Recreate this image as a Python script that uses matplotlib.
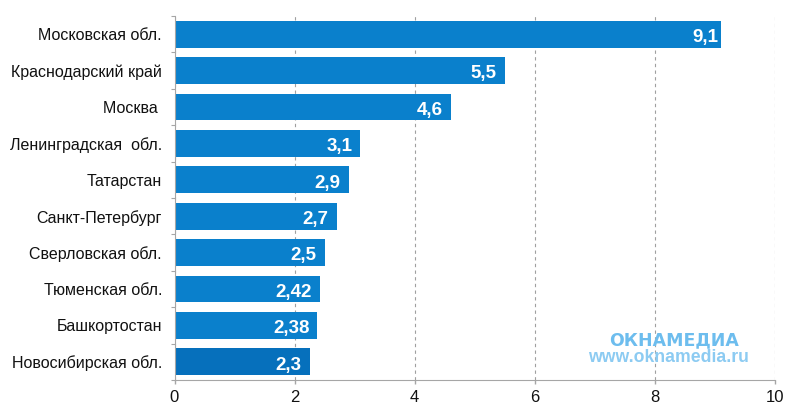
import matplotlib.pyplot as plt


# данные
regions = ['Московская обл.', 'Краснодарский край', 'Москва ', 'Ленинградская  обл.', 'Татарстан',
           'Санкт-Петербург', 'Сверловская обл.', 'Тюменская обл.', 'Башкортостан', 'Новосибирская обл.']
values = [9.1, 5.5, 4.6, 3.09, 2.9, 2.7, 2.5, 2.42, 2.38, 2.25]
value_labels = ['9,1', '5,5', '4,6', '3,1', '2,9', '2,7', '2,5', '2,42', '2,38', '2,3']
x_ticks = [0, 2, 4, 6, 8, 10]

c1 = '#0A80CC'
c2 = '#0670BC'
c_axis = '#A6A6A6'

plt.rcParams['font.family'] = 'Liberation Sans'

plt.figure(figsize=(8, 4.18), dpi=100)  # размер холста
plt.axes([174.5 / 800, 1 - 380 / 418, 600.5 / 800, 364 / 418])

colors = [c1] * 9 + [c2]
positions = list(range(len(regions)))
plt.grid(axis='x', linestyle=(0, (3, 3)), color='#A0A0A0', linewidth=0.8, zorder=1)
plt.barh(positions, values, height=0.74, color=colors, zorder=2)

for y in positions:
    shift = 0.04 if y == 0 else 0.13  # первая подпись почти у края
    plt.text(values[y] - shift, y + 0.09, value_labels[y], color='white', fontsize=13.5, fontweight='bold',
             ha='right', va='center', zorder=3)

plt.xlim(0, 10)
plt.ylim(len(regions) - 0.5, -0.5)
plt.xticks(x_ticks, fontsize=12, color='#111111')
plt.yticks([p - 0.5 for p in positions] + [len(regions) - 0.5], [''] * (len(regions) + 1))
plt.yticks(positions, regions, minor=True, fontsize=11.5, color='#111111', va='center_baseline')
plt.tick_params(axis='x', color=c_axis, length=3, width=1, pad=4)
plt.tick_params(axis='y', which='major', color=c_axis, length=3, width=0.8)
plt.tick_params(axis='y', which='minor', length=0, pad=9)

ax = plt.gca()
ax.spines['top'].set_visible(False)
ax.spines['right'].set_visible(False)
ax.spines['left'].set_color(c_axis)
ax.spines['bottom'].set_color(c_axis)

# логотип
plt.text(674 / 800, 1 - 340 / 418, 'ОКНАМЕДИА', transform=plt.gcf().transFigure, color='#6DBDEE', fontsize=12.5,
         family='DejaVu Sans', fontweight='bold', ha='center', va='center', zorder=4)
plt.text(668 / 800, 1 - 358 / 418, 'www.oknamedia.ru', transform=plt.gcf().transFigure, color='#8CCBF2',
         fontsize=12.7, fontweight='bold', ha='center', va='center', zorder=4)

plt.savefig('out.png', dpi=100)  # сохранить
